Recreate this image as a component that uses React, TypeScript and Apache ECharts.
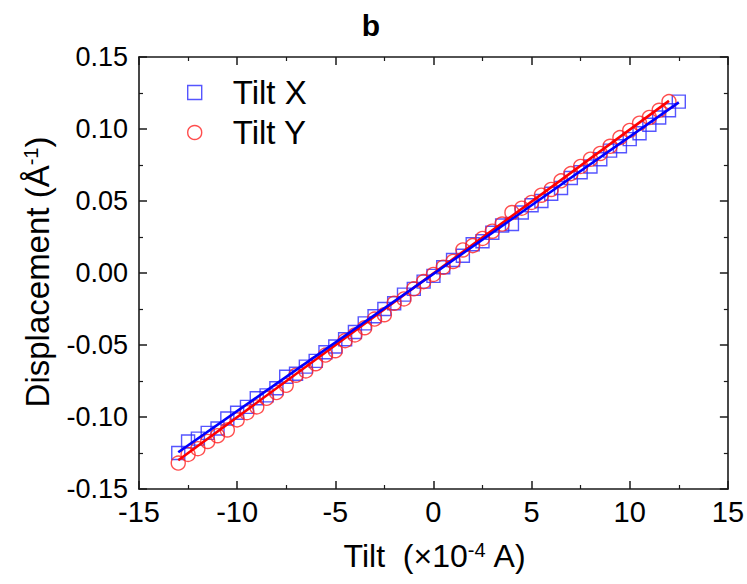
import React, { useEffect, useRef } from "react";
import * as echarts from "echarts";

const tiltXx = [-13, -12.5, -12, -11.5, -11, -10.5, -10, -9.5, -9, -8.5, -8, -7.5, -7, -6.5, -6, -5.5, -5, -4.5, -4, -3.5, -3, -2.5, -2, -1.5, -1, -0.5, 0, 0.5, 1, 1.5, 2, 2.5, 3, 3.5, 4, 4.5, 5, 5.5, 6, 6.5, 7, 7.5, 8, 8.5, 9, 9.5, 10, 10.5, 11, 11.5, 12, 12.5];
const tiltXy = [-0.125, -0.117, -0.115, -0.111, -0.108, -0.101, -0.097, -0.093, -0.087, -0.085, -0.080, -0.072, -0.070, -0.065, -0.061, -0.055, -0.051, -0.046, -0.041, -0.035, -0.030, -0.025, -0.021, -0.015, -0.011, -0.006, -0.002, 0.004, 0.009, 0.012, 0.020, 0.022, 0.028, 0.033, 0.034, 0.042, 0.047, 0.050, 0.055, 0.059, 0.066, 0.070, 0.074, 0.079, 0.085, 0.088, 0.093, 0.097, 0.103, 0.108, 0.113, 0.119];

const tiltYx = [-13, -12.5, -12, -11.5, -11, -10.5, -10, -9.5, -9, -8.5, -8, -7.5, -7, -6.5, -6, -5.5, -5, -4.5, -4, -3.5, -3, -2.5, -2, -1.5, -1, -0.5, 0, 0.5, 1, 1.5, 2, 2.5, 3, 3.5, 4, 4.5, 5, 5.5, 6, 6.5, 7, 7.5, 8, 8.5, 9, 9.5, 10, 10.5, 11, 11.5, 12];
const tiltYy = [-0.132, -0.126, -0.122, -0.117, -0.113, -0.109, -0.102, -0.097, -0.093, -0.087, -0.083, -0.078, -0.071, -0.068, -0.063, -0.057, -0.054, -0.047, -0.043, -0.038, -0.032, -0.029, -0.021, -0.018, -0.011, -0.006, -0.001, 0.004, 0.008, 0.016, 0.019, 0.024, 0.029, 0.034, 0.042, 0.045, 0.049, 0.054, 0.058, 0.064, 0.069, 0.074, 0.079, 0.083, 0.088, 0.094, 0.099, 0.104, 0.108, 0.113, 0.119];

const fitXx = [-13, 12.5];
const fitXy = [-0.1245, 0.1185];
const fitYx = [-13, 12];
const fitYy = [-0.1300, 0.1195];

const seriesNames = ["Tilt X", "Tilt Y"];
const xTicks = { min: -15, max: 15, interval: 5 };
const yTicks = { min: -0.15, max: 0.15, interval: 0.05 };

const BLUE = "#2b2bff";
const RED = "#ff2222";
const AXIS = "#1a1a1a";
const FONT = "'Liberation Sans', Arial, sans-serif";

function zip(xs: number[], ys: number[]) {
  return xs.map((x, i) => [x, ys[i]]);
}

export default function App() {
  const ref = useRef<HTMLDivElement>(null);
  useEffect(() => {
    if (!ref.current) return;
    const chart = echarts.init(ref.current, null, { renderer: "svg" });
    const axisCommon = {
      axisLine: { show: true, onZero: false, lineStyle: { color: AXIS, width: 1.6 } },
      axisTick: { show: true, inside: true, length: 8, lineStyle: { color: AXIS, width: 1.5 } },
      minorTick: { show: true, splitNumber: 2, length: 4, lineStyle: { color: AXIS, width: 1.2 } },
      splitLine: { show: false },
      minorSplitLine: { show: false },
    };
    chart.setOption({
      animation: false,
      backgroundColor: "#ffffff",
      grid: { left: 139, top: 57, right: 19, bottom: 95, containLabel: false },
      legend: {
        orient: "vertical",
        left: 182,
        top: 71,
        itemWidth: 14,
        itemHeight: 14,
        itemGap: 7,
        selectedMode: false,
        textStyle: { fontFamily: FONT, fontSize: 33, color: "#000", lineHeight: 33, padding: [0, 0, 0, 26] },
        data: [
          { name: seriesNames[0], icon: "rect", itemStyle: { color: "rgba(0,0,0,0)", borderColor: BLUE, borderWidth: 1.4 } },
          { name: seriesNames[1], icon: "circle", itemStyle: { color: "rgba(0,0,0,0)", borderColor: RED, borderWidth: 1.4 } },
        ],
      },
      xAxis: [
        {
          type: "value",
          position: "bottom",
          ...xTicks,
          ...axisCommon,
          axisLabel: { fontFamily: FONT, fontSize: 29, color: "#000", margin: 8 },
        },
        {
          type: "value",
          position: "top",
          ...xTicks,
          ...axisCommon,
          axisLabel: { show: false },
        },
      ],
      yAxis: [
        {
          type: "value",
          position: "left",
          ...yTicks,
          ...axisCommon,
          axisLabel: {
            fontFamily: FONT,
            fontSize: 27,
            color: "#000",
            margin: 11,
            formatter: (v: number) => v.toFixed(2),
          },
        },
        {
          type: "value",
          position: "right",
          ...yTicks,
          ...axisCommon,
          axisLabel: { show: false },
        },
      ],
      graphic: [
        {
          type: "text",
          x: 371,
          y: 25,
          style: {
            text: "b",
            fontFamily: FONT,
            fontWeight: "bold",
            fontSize: 30,
            fill: "#000",
            align: "center",
            verticalAlign: "middle",
          },
        },
        {
          type: "text",
          x: 37,
          y: 272,
          rotation: Math.PI / 2,
          style: {
            text: "Displacement (Å{sup|-1})",
            fontFamily: FONT,
            fontSize: 33,
            fill: "#000",
            align: "center",
            verticalAlign: "middle",
            rich: { sup: { fontFamily: FONT, fontSize: 20, verticalAlign: "top", fill: "#000" } },
          },
        },
        {
          type: "text",
          x: 435,
          y: 556,
          style: {
            text: "Tilt  (×10{sup|-4} A)",
            fontFamily: FONT,
            fontSize: 32,
            fill: "#000",
            align: "center",
            verticalAlign: "middle",
            rich: { sup: { fontFamily: FONT, fontSize: 20, verticalAlign: "top", fill: "#000" } },
          },
        },
      ],
      series: [
        {
          name: seriesNames[0],
          type: "scatter",
          symbol: "rect",
          symbolSize: 13,
          data: zip(tiltXx, tiltXy),
          itemStyle: { color: "rgba(0,0,0,0)", borderColor: BLUE, borderWidth: 1.4 },
          z: 2,
        },
        {
          name: seriesNames[1],
          type: "scatter",
          symbol: "circle",
          symbolSize: 14,
          data: zip(tiltYx, tiltYy),
          itemStyle: { color: "rgba(0,0,0,0)", borderColor: RED, borderWidth: 1.4 },
          z: 2,
        },
        {
          name: "Fit Y",
          type: "line",
          data: zip(fitYx, fitYy),
          showSymbol: false,
          symbol: "none",
          lineStyle: { color: "#ff0000", width: 2.6 },
          z: 3,
        },
        {
          name: "Fit X",
          type: "line",
          data: zip(fitXx, fitXy),
          showSymbol: false,
          symbol: "none",
          lineStyle: { color: "#0000ff", width: 2.6 },
          z: 4,
        },
      ],
    });
    return () => chart.dispose();
  }, []);
  return (
    <div
      ref={ref}
      style={{ position: "fixed", left: 0, top: 0, width: 747, height: 584, background: "#fff" }}
    />
  );
}
